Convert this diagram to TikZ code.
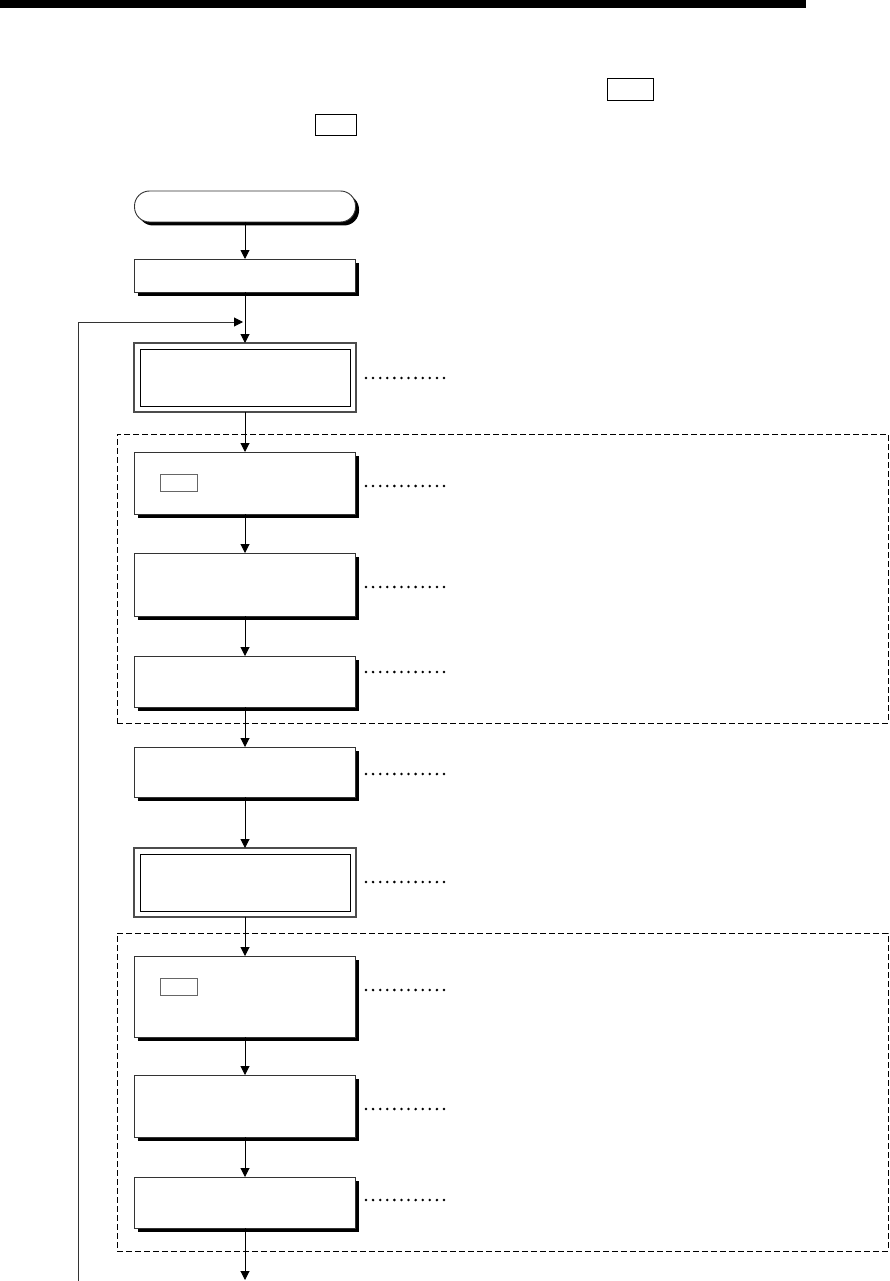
\documentclass[tikz,border=0pt]{standalone}
\usetikzlibrary{arrows.meta,shadows}
\begin{document}
\begin{tikzpicture}[x=1pt,y=-1pt,
  flow/.style={draw=black, line width=1pt, -{Triangle[width=9pt,length=9pt]}},
  shadowed/.style={drop shadow={shadow xshift=3.5pt, shadow yshift=-3.5pt, fill=black, opacity=1}},
  proc/.style={draw=black!80, line width=0.9pt, fill=white, minimum width=221pt, inner sep=0pt, outer sep=0pt, shadowed},
  term/.style={proc, rounded corners=15pt},
  dbl/.style={draw=black!70, line width=1.3pt, fill=white, minimum width=222pt, minimum height=69pt, inner sep=0pt, outer sep=0pt},
  inbox/.style={draw=black!60, line width=0.8pt, minimum width=37pt, minimum height=17pt, inner sep=0pt},
  keybox/.style={draw=black, line width=1pt, inner sep=0pt},
  group/.style={draw=black, line width=1pt, dash pattern=on 6pt off 3pt, minimum width=771pt, inner sep=0pt},
  leader/.style={draw=black, line width=2.8pt, line cap=round, dash pattern=on 0pt off 7.09pt}
]
\useasboundingbox (0,0) rectangle (889,1281);

% header bar and key boxes
\node[fill=black, minimum width=806pt, minimum height=8pt, inner sep=0pt, anchor=north west] (bar) at (0,0) {};
\node[keybox, minimum width=46pt, minimum height=22pt] (k1) at (630,90) {};
\node[keybox, minimum width=41pt, minimum height=21pt] (k2) at (335.5,125.5) {};

% dashed groups
\node[group, minimum height=289pt] (g1) at (502.5,578.5) {};
\node[group, minimum height=318pt] (g2) at (502.5,1092) {};

% boxes
\node[term, minimum height=31pt] (t) at (245,206.5) {};
\node[proc, minimum height=33pt] (s) at (245,275.5) {};
\node[dbl] (d1) at (245,377.5) {};
\draw[black, line width=1pt] ([shift={(6pt,-6pt)}]d1.north west) rectangle ([shift={(-6pt,6pt)}]d1.south east);
\node[proc, minimum height=62pt] (a) at (245,483) {};
\node[inbox] (ai) at (178.5,482.5) {};
\node[proc, minimum height=63pt] (b) at (245,584.5) {};
\node[proc, minimum height=51pt] (c) at (245,681.5) {};
\node[proc, minimum height=50pt] (d) at (245,772) {};
\node[dbl] (e) at (245,882.5) {};
\draw[black, line width=1pt] ([shift={(6pt,-6pt)}]e.north west) rectangle ([shift={(-6pt,6pt)}]e.south east);
\node[proc, minimum height=81pt] (f) at (245,996.5) {};
\node[inbox] (fi) at (178.5,987) {};
\node[proc, minimum height=62pt] (g) at (245,1106) {};
\node[proc, minimum height=51pt] (h) at (245,1202.5) {};

% main flow
\coordinate (endp) at (245,1280);
\draw[flow] (t) -- (s);
\draw[flow] (s) -- (d1);
\draw[flow] (d1) -- (a);
\draw[flow] (a) -- (b);
\draw[flow] (b) -- (c);
\draw[flow] (c) -- (d);
\draw[flow] (d) -- (e);
\draw[flow] (e) -- (f);
\draw[flow] (f) -- (g);
\draw[flow] (g) -- (h);
\draw[flow] (h) -- (endp);

% loop back
\coordinate (lb) at (78,1281);
\coordinate (lj) at (243,322);
\draw[flow, draw=black!80, -{Triangle[width=9pt,length=9pt,fill=black,color=black]}] (lb) |- (lj);

% dotted leaders
\foreach \y in {378,486,587,672,774,882,990,1109,1200}{
  \draw[leader] (366,\y) -- (444.5,\y);
}
\end{tikzpicture}
\end{document}
